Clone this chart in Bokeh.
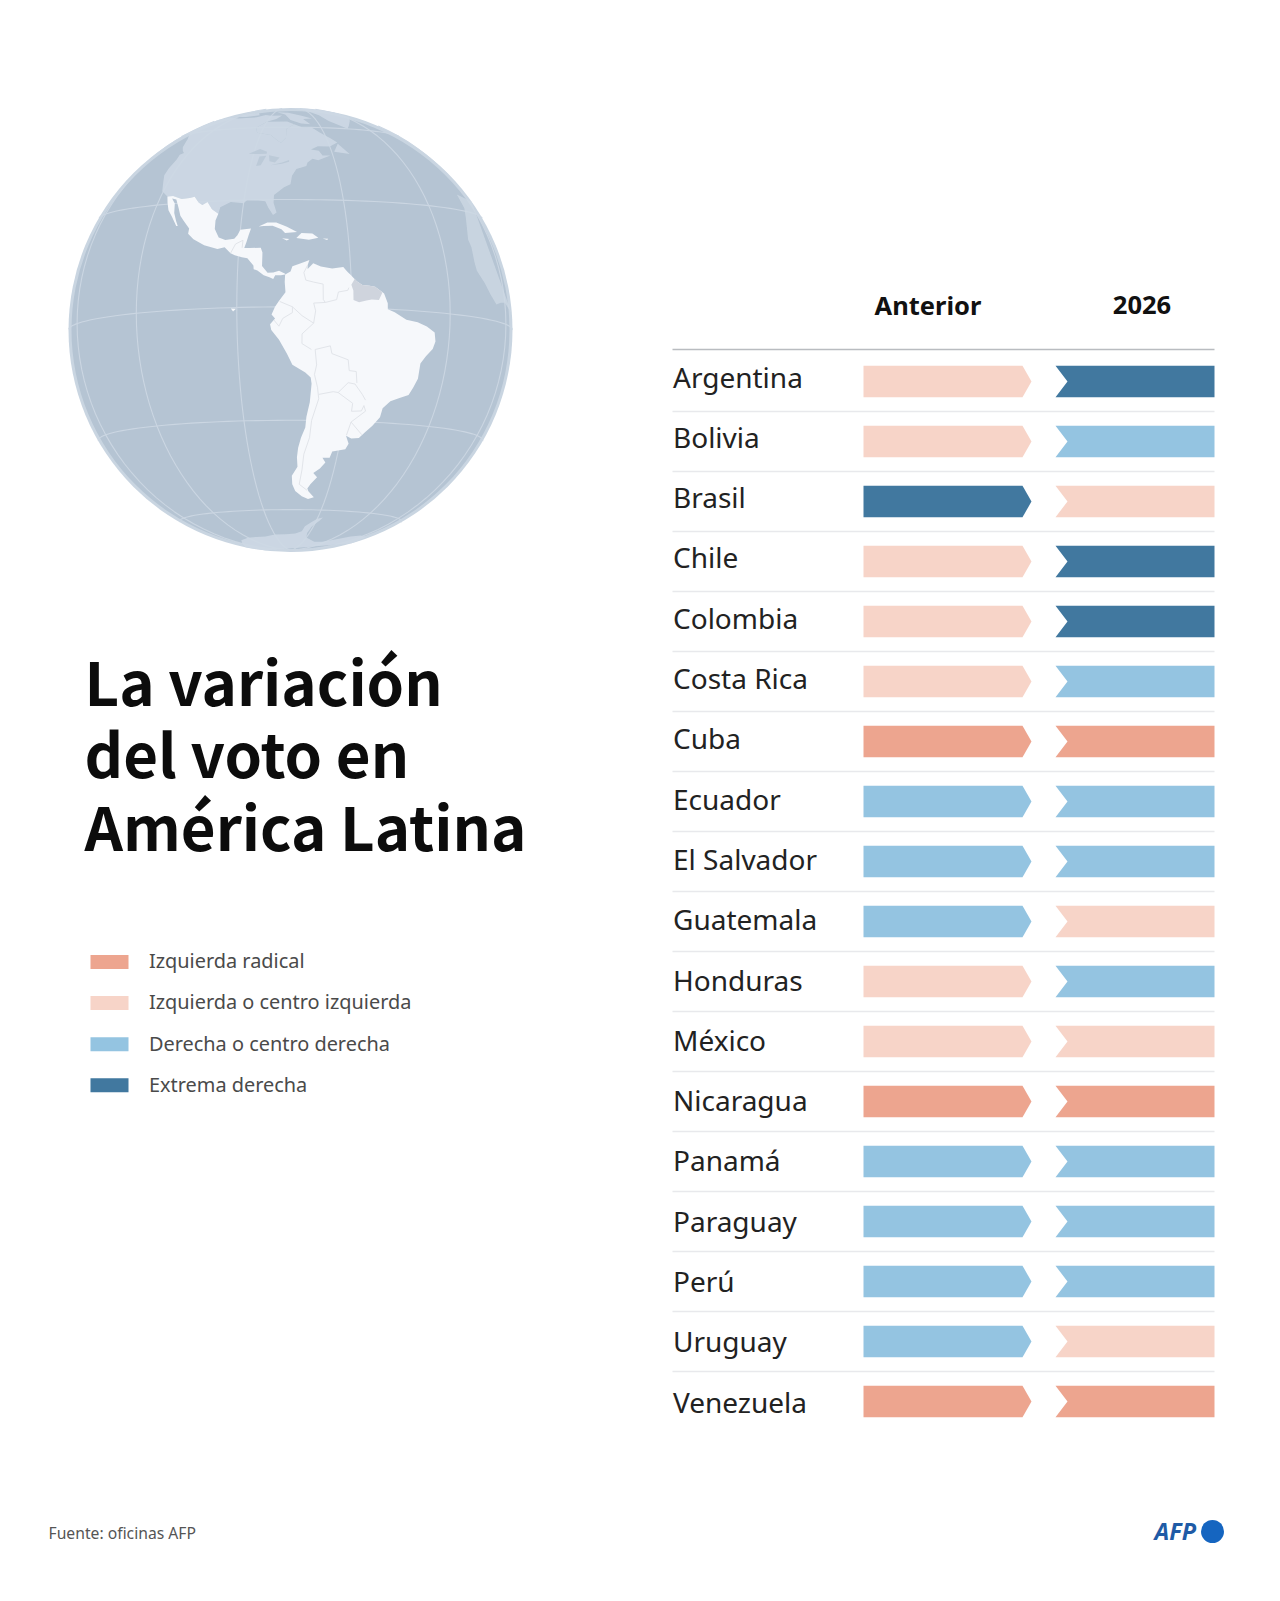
import numpy as np
from bokeh.plotting import figure
from bokeh.models import Range1d
from bokeh.core.properties import value
from bokeh.embed import file_html
from bokeh.resources import INLINE

# ---------- data ----------
countries = ["Argentina", "Bolivia", "Brasil", "Chile", "Colombia", "Costa Rica", "Cuba", "Ecuador",
             "El Salvador", "Guatemala", "Honduras", "México", "Nicaragua", "Panamá", "Paraguay",
             "Perú", "Uruguay", "Venezuela"]
anterior = ["CI", "CI", "ED", "CI", "CI", "CI", "IR", "CD", "CD", "CD", "CI", "CI", "IR", "CD", "CD", "CD", "CD", "IR"]
actual = ["ED", "CD", "CI", "ED", "ED", "CD", "IR", "CD", "CD", "CI", "CD", "CI", "IR", "CD", "CD", "CD", "CI", "IR"]
column_heads = ["Anterior", "2026"]
legend_keys = ["IR", "CI", "CD", "ED"]
legend_labels = ["Izquierda radical", "Izquierda o centro izquierda", "Derecha o centro derecha", "Extrema derecha"]
palette = {"IR": "#EDA58F", "CI": "#F7D4C8", "CD": "#94C4E1", "ED": "#41789F"}
title_lines = ["La variación", "del voto en", "América Latina"]
source_text = "Fuente: oficinas AFP"

north_america = [(-117.1,32.5),(-120.5,34.5),(-122.5,37.8),(-124.3,40.4),(-124.5,43),(-124,46.3),(-124.7,48.4),(-123,49),(-125,50),(-128,52),(-130.5,54.5),(-133,56.5),(-136,58),(-140,59.8),(-146,60.8),(-151,59.5),(-154,58),(-158,56.5),(-163,55),(-160,58.5),(-165,61),(-165,64),(-168,65.6),(-163,67),(-166,68.5),(-157,71),(-150,70.5),(-141,69.7),(-130,70),(-120,69),(-115,68),(-108,68),(-100,68),(-95,70),(-90,69),(-82,69),(-85,66),(-90,64),(-94,60),(-92,57),(-85,55.5),(-82,53),(-80,51.5),(-78,54),(-78,59),(-74,62),(-70,60),(-65,60),(-62,57),(-58,54),(-56,52),(-60,50),(-65,50),(-68,48.5),(-65,48),(-64,46),(-61,46),(-66,44),(-68,44.5),(-70,43),(-70.5,41.7),(-74,40.5),(-75.5,38),(-76,35),(-78,34),(-81,31.5),(-81,29),(-80,26),(-81,25.2),(-82.5,27.5),(-83.5,29.5),(-85.5,29.8),(-89,30),(-90,29),(-94,29.5),(-97,28),(-97.2,26),(-99.5,27.5),(-101.5,29.8),(-103,29),(-104.5,29.8),(-106.5,31.8),(-108.2,31.5),(-111,31.3),(-114.8,32.5)]
greenland = [(-45,60),(-52,65),(-54,70),(-60,76),(-70,78),(-65,81),(-40,83.5),(-20,81),(-20,75),(-25,70),(-35,66),(-42,62)]
baffin = [(-65,62),(-68,66),(-62,66.5),(-68,69),(-78,72),(-88,73),(-80,70),(-76,65),(-70,62.5)]
arctic_isl = [(-118,72),(-105,73),(-100,70),(-110,69),(-117,69.5)]
newfoundland = [(-59,47.7),(-56,51.5),(-53,47)]
africa = [(-9,35.5),(-10,31),(-13,27.5),(-17,21),(-16.5,19),(-17,14.7),(-16.7,12.5),(-13.5,9.5),(-11,6.8),(-7.5,4.4),(-4,5.2),(0,5.6),(30,5.6),(30,35.5)]
antarctica = [(-57,-63.3),(-60,-64),(-63,-66),(-66,-68),(-67,-71),(-72,-72.5),(-80,-73),(-90,-73),(-100,-74),(-110,-74),(-120,-74),(-135,-75),(-150,-77),(-180,-78),(120,-67),(60,-67),(10,-70),(-5,-70.5),(-15,-72),(-25,-75),(-35,-77.5),(-45,-78),(-60,-75),(-62,-72),(-61,-68),(-58,-65)]
mexico_central = [(-117.1,32.5),(-116,30.5),(-114.5,28),(-112.5,26),(-110,23),(-109.5,23),(-110.5,24.5),(-112,27),(-113,30),(-114.8,31.7),(-113,31.3),(-111,28.5),(-109.5,26),(-108,24.5),(-105.5,22),(-105.5,20.5),(-103.5,18.8),(-100,17),(-96,15.8),(-94,16.2),(-92.2,14.5),(-91,13.9),(-89,13.3),(-87.5,13),(-85.8,11),(-85.7,10),(-84.7,9.6),(-83,8.3),(-81.5,7.8),(-80.5,7.3),(-80,8.3),(-78.5,8.3),(-77.4,8.5),(-77.4,8.7),(-79,9.5),(-80.5,9),(-82,9),(-83.5,10.8),(-83.5,14.5),(-84,15.8),(-87,15.8),(-88.5,15.8),(-88,17.5),(-87.5,19.5),(-87,21.3),(-90,21),(-90.7,19.5),(-91.5,18.5),(-94,18.2),(-96,19),(-97.5,21.5),(-97.7,24),(-97.2,26),(-99.5,27.5),(-101.5,29.8),(-103,29),(-104.5,29.8),(-106.5,31.8),(-108.2,31.5),(-111,31.3),(-114.8,32.5)]
south_america = [(-77.4,8.5),(-76,9.3),(-75.5,10.7),(-74,11.2),(-72,12),(-71,12.4),(-71.5,11),(-71.5,10),(-70,11.5),(-68,10.7),(-65,10.2),(-62,10.7),(-61,9.5),(-60,8.5),(-58.5,7),(-57,6),(-55,5.9),(-53.5,5.7),(-52,4.7),(-51,4),(-50,1.5),(-50,0),(-48,-0.7),(-44.5,-2.5),(-41,-2.9),(-38,-3.8),(-35.3,-5.2),(-34.8,-7.5),(-35.5,-9.5),(-37.5,-11.5),(-39,-13.5),(-39,-17.5),(-40,-20),(-41,-22),(-44,-23),(-46.5,-24),(-48.5,-26),(-48.7,-28.5),(-50.5,-31),(-52.5,-33),(-54,-34.7),(-56.5,-34.9),(-58.4,-34.2),(-57,-36.5),(-57.7,-38.2),(-62,-39),(-62.5,-41),(-65,-41),(-63.7,-42.5),(-65.3,-44.5),(-67.5,-46),(-65.8,-47.5),(-68,-50),(-69,-51.5),(-68.4,-52.5),(-65.5,-54.8),(-68,-55.5),(-71,-54.5),(-74,-52.5),(-75.3,-50),(-75.5,-47),(-73.5,-44),(-73.8,-41),(-73.5,-38),(-72.7,-35),(-71.5,-32),(-71.3,-29),(-70.5,-25),(-70.2,-20),(-70.5,-18.3),(-72,-17),(-75.5,-15),(-77,-12),(-79,-8.5),(-81,-6),(-81.3,-4.5),(-80,-3),(-80.9,-2),(-80,0),(-79,1.5),(-77.3,3.8),(-77.5,6.5)]
guianas = [(-59,7.6),(-58.5,7),(-57,6),(-55,5.9),(-53.5,5.7),(-52,4.7),(-51.5,4.2),(-52.5,2.3),(-54.5,2.3),(-56,2),(-58,1.5),(-59.5,2),(-59.5,4.5),(-60,6)]
islands = [
    [(-84.9,21.9),(-82.5,23),(-80,23),(-77,21.7),(-74.2,20.2),(-77.5,19.9),(-78.5,21),(-81,22),(-83.5,22)],
    [(-74.4,18.5),(-73,19.9),(-70,19.8),(-68.4,18.6),(-71,18)],
    [(-78.3,18.4),(-76.3,18.2),(-77,17.8)],
    [(-67.2,18.4),(-65.7,18.4),(-66,18)],
    [(-91.6,-0.2),(-90.2,-0.3),(-91,-1)],
]
lakes = [
    [(-92,46.8),(-88,48.8),(-85,47.5),(-85,46.6),(-88,46.6)],
    [(-88,41.8),(-87.5,45.5),(-85,45.8),(-86.4,42)],
    [(-84,46),(-80,45),(-81.5,43),(-83.5,43.5)],
    [(-83,42),(-79,43),(-76.5,44),(-76.5,43.3),(-79,42.5)],
]
hudson = [(-94,60),(-92,57),(-85,55.5),(-82,53),(-80,51.5),(-78,54),(-78,59),(-74,62),(-78,64),(-90,64)]
borders = [
    [(-71.5,11),(-72.5,9),(-72,7),(-70,6.5),(-67.5,6),(-67.5,2),(-67,1.2)],
    [(-67,1.2),(-70,1),(-69.5,-1),(-70,-4.2)],
    [(-70,-4.2),(-73,-2.3),(-75.5,0),(-78.8,1.4)],
    [(-75.5,0),(-75.5,-1.5),(-78,-3),(-79,-5),(-80.3,-3.4)],
    [(-67,1.2),(-64,2),(-63.5,4),(-61,4.5),(-60.7,5.2)],
    [(-70,-4.2),(-73,-7),(-73,-9.5),(-70.5,-11)],
    [(-69.5,-11),(-69,-15),(-69.5,-17.5)],
    [(-69.5,-11),(-65.5,-10),(-65,-12),(-60.5,-13.5),(-60,-16.3),(-58,-16.5),(-57.5,-19.5)],
    [(-69.5,-17.5),(-68.5,-21)],
    [(-68.5,-21),(-68,-24),(-69.7,-30),(-70,-35),(-71.5,-40),(-71.8,-45),(-72.5,-50),(-69,-52.2)],
    [(-68,-22.8),(-64,-22),(-62.6,-22.2)],
    [(-62.6,-22.2),(-60,-19.5),(-58,-19.8)],
    [(-58,-19.8),(-55.5,-22.5),(-54.3,-24)],
    [(-62.6,-22.2),(-58,-25),(-58,-27.2),(-55,-27),(-54.5,-25.5)],
    [(-54.5,-25.5),(-53.7,-27),(-57.6,-30.2)],
    [(-57.6,-30.2),(-58.3,-34)],
    [(-57.6,-30.2),(-53.3,-33.7)],
    [(-92.2,14.5),(-91,17),(-89,18)],
    [(-89.1,15.9),(-89,18)],
]
meridians = [-150, -120, -90, -60, -30, 0]
parallels = [-60, -30, 0, 30, 60]
view_lon, view_lat = -76.0, -6.0

# ---------- layout ----------
W, H = 1264, 1585
p = figure(width=W, height=H, output_backend="svg", toolbar_location=None,
           x_range=Range1d(0, W), y_range=Range1d(H, 0), min_border=0)
p.axis.visible = False
p.grid.visible = False
p.outline_line_color = None
p.background_fill_color = "white"

CX, CY, R = 290.0, 329.5, 222.0
SANS = value("Noto Sans")
HEAD = value("Noto Sans CJK SC")


def project(pts):
    lon = np.radians(np.array([a for a, _ in pts], dtype=float) - view_lon)
    lat = np.radians(np.array([b for _, b in pts], dtype=float))
    f = np.radians(view_lat)
    x = np.cos(lat) * np.sin(lon)
    y = np.cos(f) * np.sin(lat) - np.sin(f) * np.cos(lat) * np.cos(lon)
    z = np.sin(f) * np.sin(lat) + np.cos(f) * np.cos(lat) * np.cos(lon)
    hidden = z < 0
    n = np.hypot(x, y)
    x = np.where(hidden, x / n, x)
    y = np.where(hidden, y / n, y)
    return CX + R * x, CY - R * y, hidden


def fill(polys, color, alpha=1.0):
    xs, ys = [], []
    for poly in polys:
        a, b, _ = project(poly)
        xs.append(a.tolist())
        ys.append(b.tolist())
    p.patches(xs, ys, fill_color=color, fill_alpha=alpha, line_color=None)


def stroke(lines, color, width, alpha=1.0):
    xs, ys = [], []
    for line in lines:
        a, b, hid = project(line)
        xs.append(np.where(hid, np.nan, a).tolist())
        ys.append(np.where(hid, np.nan, b).tolist())
    p.multi_line(xs, ys, line_color=color, line_width=width, line_alpha=alpha)


# globe
p.circle([CX], [CY], radius=R, fill_color="#c9d5e1", line_color=None)
p.circle([CX], [CY], radius=R - 3, fill_color="#b5c4d3", line_color=None)
grat = [[(m, la) for la in range(-90, 91, 3)] for m in meridians] + \
       [[(lo, pa) for lo in range(-170, 21, 3)] for pa in parallels]
stroke(grat, "#cbd6e2", 1.1)
fill([north_america, hudson, greenland, baffin, arctic_isl, newfoundland, antarctica], "#cdd8e4", 0.9)
fill([africa], "#cdd8e4", 0.8)
fill(lakes, "#bccad8")
fill([south_america], "#f6f8fb")
fill([guianas], "#cfd4dd")
fill([mexico_central] + islands, "#f6f8fb")
stroke(borders, "#e2e5ea", 1.0)

# title
for i, line in enumerate(title_lines):
    p.text([84], [678.5 + i * 72.6], text=[line], text_font=HEAD, text_font_style="bold",
           text_font_size="60px", text_color="#0c0c0c", text_baseline="alphabetic")

# legend
for i, (key, label) in enumerate(zip(legend_keys, legend_labels)):
    yc = 961.5 + i * 41.1
    p.quad(left=[90], right=[128], top=[yc - 7], bottom=[yc + 7], fill_color=palette[key], line_color=None)
    p.text([148.5], [yc - 1.2], text=[label], text_font=SANS, text_font_size="19.9px",
           text_color="#4a4a4a", text_baseline="alphabetic")

# table
ROW0, STEP, BAR_H = 381.0, 60.0, 31.5
LABEL0, LABEL_STEP = 376.0, 60.3
L0, L1, LT = 863, 1022, 1031
Rr0, Rr1, RN = 1055, 1214, 1067
for hx, head in zip([927.5, 1141.5], column_heads):
    p.text([hx], [304], text=[head], text_font=SANS, text_font_style="bold", text_font_size="25.5px",
           text_color="#111111", text_align="center", text_baseline="alphabetic")
p.segment([672], [349], [1214], [349], line_color="#b9bcc0", line_width=1.6)
lx, ly, lc, rx, ry, rc = [], [], [], [], [], []
for i, (name, a, b) in enumerate(zip(countries, anterior, actual)):
    yc = ROW0 + i * STEP
    t, bm = yc - BAR_H / 2, yc + BAR_H / 2
    lx.append([L0, L1, LT, L1, L0]); ly.append([t, t, yc, bm, bm]); lc.append(palette[a])
    rx.append([Rr0, Rr1, Rr1, Rr0, RN]); ry.append([t, t, bm, bm, yc]); rc.append(palette[b])
    p.text([672.5], [LABEL0 + i * LABEL_STEP], text=[name], text_font=SANS, text_font_size="28px",
           text_color="#222222", text_baseline="alphabetic")
    if i < len(countries) - 1:
        p.segment([672], [yc + 30], [1214], [yc + 30], line_color="#e8e9ec", line_width=1.3)
p.patches(lx, ly, fill_color=lc, line_color=None)
p.patches(rx, ry, fill_color=rc, line_color=None)

# footer
p.text([48], [1532], text=[source_text], text_font=SANS, text_font_size="15.7px",
       text_color="#555555", text_baseline="alphabetic")
p.text([1154], [1530], text=["AFP"], text_font=SANS, text_font_style="bold italic",
       text_font_size="23.5px", text_color="#1f5ba6", text_baseline="alphabetic")
p.circle([1212], [1531], radius=11.5, fill_color="#1565c0", line_color=None)

open("out.html", "w").write(file_html(p, INLINE))
